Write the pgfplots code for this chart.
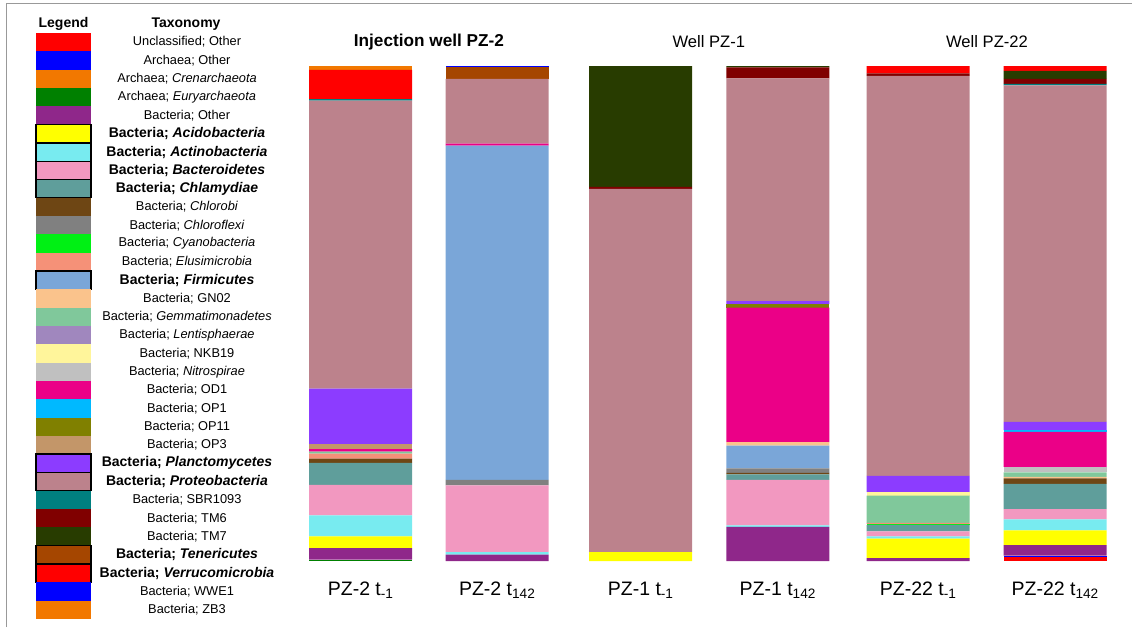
\documentclass[border=0pt]{standalone}
\usepackage{pgfplots}
\usepackage{pgfplotstable}
\pgfplotsset{compat=1.18}
\usepackage{fontspec}
\setmainfont{Liberation Sans}

\definecolor{cuncl}{RGB}{255,0,0}
\definecolor{caoth}{RGB}{0,0,255}
\definecolor{ccren}{RGB}{242,120,0}
\definecolor{ceury}{RGB}{0,128,0}
\definecolor{cboth}{RGB}{143,39,138}
\definecolor{cacido}{RGB}{255,255,0}
\definecolor{cactino}{RGB}{120,235,240}
\definecolor{cbactero}{RGB}{242,152,192}
\definecolor{cchlam}{RGB}{95,158,155}
\definecolor{cchlorobi}{RGB}{110,70,20}
\definecolor{cchlorofl}{RGB}{128,128,128}
\definecolor{ccyano}{RGB}{0,240,20}
\definecolor{celusi}{RGB}{245,145,120}
\definecolor{cfirmi}{RGB}{122,166,216}
\definecolor{cgn}{RGB}{250,195,140}
\definecolor{cgemm}{RGB}{128,200,155}
\definecolor{clenti}{RGB}{160,135,190}
\definecolor{cnkb}{RGB}{255,245,155}
\definecolor{cnitro}{RGB}{192,192,192}
\definecolor{cod}{RGB}{235,0,135}
\definecolor{copa}{RGB}{0,185,255}
\definecolor{copb}{RGB}{128,128,0}
\definecolor{copc}{RGB}{195,150,105}
\definecolor{cplanct}{RGB}{140,60,255}
\definecolor{cproteo}{RGB}{188,130,140}
\definecolor{csbr}{RGB}{0,128,128}
\definecolor{ctmsix}{RGB}{128,0,0}
\definecolor{ctmseven}{RGB}{40,60,0}
\definecolor{cteneri}{RGB}{165,70,0}
\definecolor{cverru}{RGB}{255,0,0}
\definecolor{cwwe}{RGB}{0,0,255}
\definecolor{czb}{RGB}{242,120,0}

% relative abundance (%) per sample; columns stacked bottom to top
\pgfplotstableread{
x uncl aoth cren eury both acido actino bactero chlam chlorobi chlorofl cyano elusi firmi gn gemm lenti nkb nitro od opa opb opc planct proteo sbr tmsix tmseven teneri verru wwe zb
360.7 0 0 0 0.3 2.3 2.4 4.2 6.2 4.4 0.9 0 0 1.0 0 0 0.4 0 0 0 0.5 0 0 1.0 11.2 58.2 0.3 0 0 0 5.9 0 0.8
497.2 0 0 0 0 1.3 0 0.5 13.5 0 0 1.1 0 0 67.5 0 0 0 0 0 0.4 0 0 0 0 13.1 0 0 0 2.4 0 0.2 0
640.7 0 0 0 0 0 1.8 0 0 0 0 0 0 0 0 0 0 0 0 0 0 0 0 0 0 73.4 0 0.4 24.4 0 0 0 0
777.8 0 0 0 0 6.9 0 0.3 9.2 1.1 0.3 0.9 0 0 4.6 0.7 0 0 0 0 27.2 0 0.7 0 0.6 45.0 0 2.2 0.3 0 0 0 0
918.2 0 0 0 0 0.6 3.9 0.5 1.0 1.3 0 0 0.2 0.2 0 0 5.5 0 0.7 0 0 0 0 0 3.3 80.8 0 0.5 0 0 1.5 0 0
1055.2 0.8 0.3 0 0 2.1 3.0 2.2 2.1 5.1 1.1 0 0 0 0 0.3 0.9 0 0 1.1 7.1 0.3 0 0 1.7 68.0 0.3 1.0 1.6 0 1.0 0 0
}\data

\newcommand{\legrow}[3]{%
  \fill[#2] (36,{-33-#1*18.31}) rectangle (91,{-33-(#1+1)*18.31});
  \node[font=\fontsize{12.8}{14}\selectfont] at (187,{-33-(#1+0.5)*18.31}) {#3};}
\newcommand{\legrowb}[3]{%
  \filldraw[fill=#2, draw=black, line width=1.3pt] (36,{-33-#1*18.31}) rectangle (91,{-33-(#1+1)*18.31});
  \node[font=\fontsize{14}{16}\selectfont\bfseries] at (187,{-33-(#1+0.5)*18.31}) {#3};}

\begin{document}
\begin{tikzpicture}[x=1pt,y=1pt]
\useasboundingbox (0,0) rectangle (1132,-627);
\draw[gray!80, line width=1pt] (6,-627) -- (6,-3) -- (1132,-3);

% legend
\node[font=\fontsize{14}{16}\selectfont\bfseries] at (63.5,-24) {Legend};
\node[font=\fontsize{14}{16}\selectfont\bfseries] at (186,-24) {Taxonomy};
\legrow{0}{cuncl}{Unclassified; Other}
\legrow{1}{caoth}{Archaea; Other}
\legrow{2}{ccren}{Archaea; \textit{Crenarchaeota}}
\legrow{3}{ceury}{Archaea; \textit{Euryarchaeota}}
\legrow{4}{cboth}{Bacteria; Other}
\legrowb{5}{cacido}{Bacteria; \textit{Acidobacteria}}
\legrowb{6}{cactino}{Bacteria; \textit{Actinobacteria}}
\legrowb{7}{cbactero}{Bacteria; \textit{Bacteroidetes}}
\legrowb{8}{cchlam}{Bacteria; \textit{Chlamydiae}}
\legrow{9}{cchlorobi}{Bacteria; \textit{Chlorobi}}
\legrow{10}{cchlorofl}{Bacteria; \textit{Chloroflexi}}
\legrow{11}{ccyano}{Bacteria; \textit{Cyanobacteria}}
\legrow{12}{celusi}{Bacteria; \textit{Elusimicrobia}}
\legrowb{13}{cfirmi}{Bacteria; \textit{Firmicutes}}
\legrow{14}{cgn}{Bacteria; GN02}
\legrow{15}{cgemm}{Bacteria; \textit{Gemmatimonadetes}}
\legrow{16}{clenti}{Bacteria; \textit{Lentisphaerae}}
\legrow{17}{cnkb}{Bacteria; NKB19}
\legrow{18}{cnitro}{Bacteria; \textit{Nitrospirae}}
\legrow{19}{cod}{Bacteria; OD1}
\legrow{20}{copa}{Bacteria; OP1}
\legrow{21}{copb}{Bacteria; OP11}
\legrow{22}{copc}{Bacteria; OP3}
\legrowb{23}{cplanct}{Bacteria; \textit{Planctomycetes}}
\legrowb{24}{cproteo}{Bacteria; \textit{Proteobacteria}}
\legrow{25}{csbr}{Bacteria; SBR1093}
\legrow{26}{ctmsix}{Bacteria; TM6}
\legrow{27}{ctmseven}{Bacteria; TM7}
\legrowb{28}{cteneri}{Bacteria; \textit{Tenericutes}}
\legrowb{29}{cverru}{Bacteria; \textit{Verrucomicrobia}}
\legrow{30}{cwwe}{Bacteria; WWE1}
\legrow{31}{czb}{Bacteria; ZB3}

% group titles
\node[font=\fontsize{17.2}{19}\selectfont\bfseries] at (428.9,-42) {Injection well PZ-2};
\node[font=\fontsize{16.6}{19}\selectfont] at (708.8,-42) {Well PZ-1};
\node[font=\fontsize{16.6}{19}\selectfont] at (987,-42) {Well PZ-22};

\begin{axis}[
  at={(0pt,-561pt)}, anchor=south west,
  scale only axis, width=1132pt, height=495pt,
  xmin=0, xmax=1132, ymin=0, ymax=100,
  ybar stacked, bar width=103pt,
  axis line style={draw=none},
  major tick length=0pt,
  ytick=\empty,
  xtick={360.7,497.2,640.7,777.8,918.2,1055.2},
  xticklabels={PZ-2 t\textsubscript{-1},PZ-2 t\textsubscript{142},PZ-1 t\textsubscript{-1},PZ-1 t\textsubscript{142},PZ-22 t\textsubscript{-1},PZ-22 t\textsubscript{142}},
  xticklabel style={font=\fontsize{19.5}{22}\selectfont, anchor=base, yshift=-34pt, inner sep=0pt},
  clip=false,
]
\pgfplotsinvokeforeach{uncl,aoth,cren,eury,both,acido,actino,bactero,chlam,chlorobi,chlorofl,cyano,elusi,firmi,gn,gemm,lenti,nkb,nitro,od,opa,opb,opc,planct,proteo,sbr,tmsix,tmseven,teneri,verru,wwe,zb}{
  \addplot[fill=c#1, draw=none] table[x=x, y=#1] {\data};
}
\end{axis}
\end{tikzpicture}
\end{document}
